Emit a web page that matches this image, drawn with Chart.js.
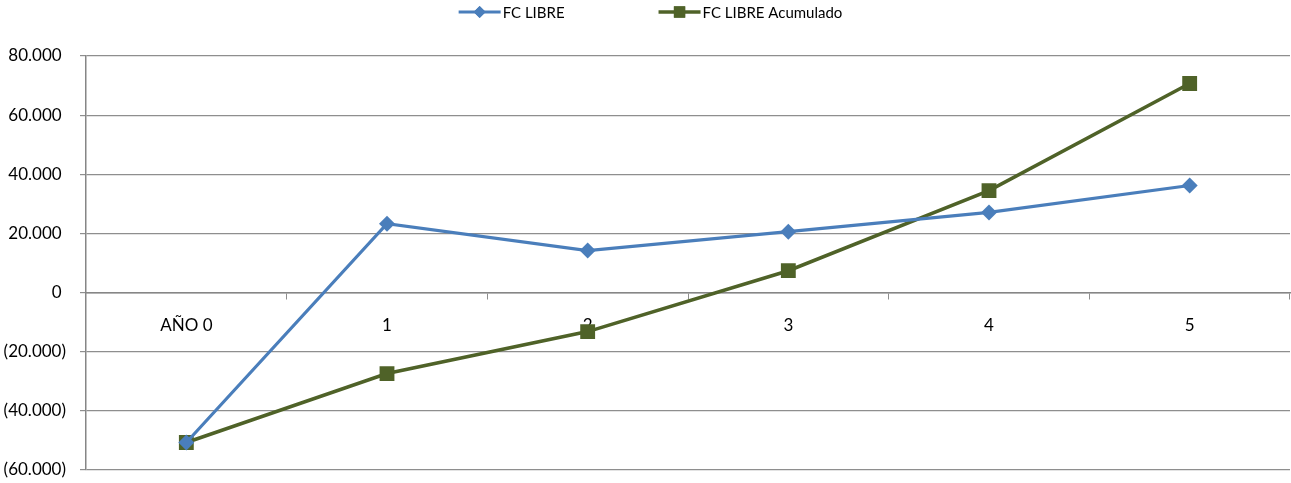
<!DOCTYPE html>
<html>
<head>
<meta charset="utf-8">
<script src="https://cdn.jsdelivr.net/npm/chart.js@4/dist/chart.umd.min.js"></script>
<style>
  html, body { margin: 0; padding: 0; background: #fff; overflow: hidden; }
  #wrap { width: 1291px; height: 483px; position: relative; }
</style>
</head>
<body>
<div id="wrap"><canvas id="c"></canvas></div>
<script>
// Flujo de caja libre por año y su acumulado
const categories = ['AÑO 0', '1', '2', '3', '4', '5'];
const fcLibre = [-50700, 23300, 14200, 20600, 27100, 36200];
const fcLibreAcumulado = [-50700, -27400, -13200, 7400, 34500, 70700];
const yMin = -60000;
const yMax = 80000;
const yStep = 20000;

const BLUE = '#4A7EBB';
const GREEN = '#4F6228';
const GRID = '#8E8E8E';
const FONT = 'Lato, "Open Sans", sans-serif';

// 80000 -> "80.000 ", -20000 -> "(20.000)"; positives keep a trailing space
// so their digits line up with the bracketed negatives
function fmtNum(v) {
  const s = String(Math.abs(Math.round(v))).replace(/\B(?=(\d{3})+(?!\d))/g, '.');
  return v < 0 ? '(' + s + ')' : s + ' ';
}

// Legend drawn centred above the plot: line sample with its marker, then the label
const lineLegend = {
  id: 'lineLegend',
  afterDraw(chart) {
    const ctx = chart.ctx;
    const sampleW = 42, gap = 2, itemGap = 94, y = 12;
    ctx.save();
    ctx.font = '15px ' + FONT;
    ctx.textBaseline = 'middle';
    const items = chart.data.datasets.map(ds => ({ ds, tw: ctx.measureText(ds.label).width }));
    const total = items.reduce((a, it) => a + sampleW + gap + it.tw, 0) + itemGap * (items.length - 1);
    let x = (chart.width - total) / 2 + 5;
    items.forEach(({ ds, tw }) => {
      ctx.strokeStyle = ds.borderColor;
      ctx.lineWidth = ds.borderWidth;
      ctx.beginPath();
      ctx.moveTo(x, y);
      ctx.lineTo(x + sampleW, y);
      ctx.stroke();
      ctx.fillStyle = ds.pointBackgroundColor;
      ctx.beginPath();
      const r = ds.pointStyle === 'rect' ? 8 : 6;
      Chart.helpers.drawPoint(ctx, { pointStyle: ds.pointStyle, rotation: 0, borderWidth: 0, radius: r },
        x + sampleW / 2, y);
      ctx.fill();
      ctx.fillStyle = '#000';
      ctx.fillText(ds.label, x + sampleW + gap, y + 1);
      x += sampleW + gap + tw + itemGap;
    });
    ctx.restore();
  }
};

new Chart(document.getElementById('c'), {
  type: 'line',
  data: {
    labels: categories,
    datasets: [
      {
        label: 'FC LIBRE',
        data: fcLibre,
        borderColor: BLUE,
        backgroundColor: BLUE,
        pointBackgroundColor: BLUE,
        pointBorderColor: BLUE,
        borderWidth: 3.2,
        pointStyle: 'rectRot',
        pointRadius: 8,
        pointBorderWidth: 0,
        tension: 0,
        fill: false
      },
      {
        label: 'FC LIBRE Acumulado',
        data: fcLibreAcumulado,
        borderColor: GREEN,
        backgroundColor: GREEN,
        pointBackgroundColor: GREEN,
        pointBorderColor: GREEN,
        borderWidth: 3.6,
        pointStyle: 'rect',
        pointRadius: 10.5,
        pointBorderWidth: 0,
        tension: 0,
        fill: false
      }
    ]
  },
  options: {
    responsive: true,
    maintainAspectRatio: false,
    animation: false,
    events: [],
    layout: { autoPadding: false, padding: { top: 56, bottom: 13, right: 1, left: 0 } },
    plugins: {
      legend: { display: false },
      tooltip: { enabled: false }
    },
    scales: {
      x: {
        type: 'category',
        position: { y: 0 },
        offset: true,
        afterFit(scale) {
          scale.height = 0;
          scale.paddingLeft = 0;
          scale.paddingRight = 0;
          scale.paddingTop = 0;
          scale.paddingBottom = 0;
        },
        grid: {
          display: true,
          drawOnChartArea: false,
          offset: true,
          tickLength: 6,
          color: GRID
        },
        border: { display: true, color: '#868686', width: 1.5 },
        ticks: {
          color: '#000',
          padding: 17,
          font: { family: FONT, size: 17 },
          maxRotation: 0
        }
      },
      y: {
        min: yMin,
        max: yMax,
        afterFit(scale) {
          scale.width = 86;
          scale.paddingTop = 0;
          scale.paddingBottom = 0;
        },
        grid: {
          color: GRID,
          lineWidth: 1.2,
          tickLength: 6
        },
        border: { display: true, color: '#868686', width: 1.5 },
        ticks: {
          stepSize: yStep,
          color: '#000',
          padding: 14,
          font: { family: FONT, size: 17 },
          callback: v => fmtNum(v)
        }
      }
    }
  },
  plugins: [lineLegend]
});
</script>
</body>
</html>
